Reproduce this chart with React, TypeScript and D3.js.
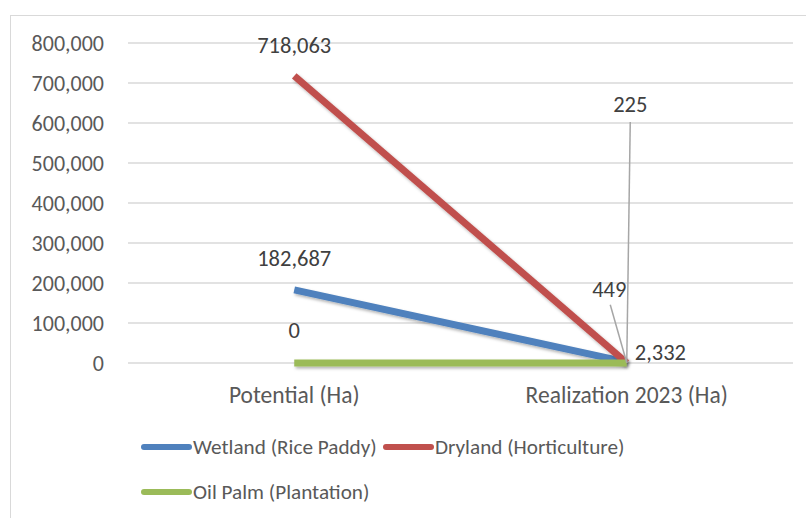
import React from "react";
import * as d3 from "d3";

const categories = ["Potential (Ha)", "Realization 2023 (Ha)"];
const seriesNames = ["Wetland (Rice Paddy)", "Dryland (Horticulture)", "Oil Palm (Plantation)"];
const wetland = [182687, 2332];
const dryland = [718063, 449];
const oilPalm = [0, 225];
const yTicks = [0, 100000, 200000, 300000, 400000, 500000, 600000, 700000, 800000];
const colors = ["#4F81BD", "#C0504D", "#9BBB59"];

const W = 806, H = 518;
const FONT = "Carlito, Calibri, Lato, sans-serif";

export default function App() {
  const x = d3.scaleBand().domain(categories).range([128, 793]);
  const y = d3.scaleLinear().domain([0, 800000]).range([363, 43]);
  const cx = (c: string) => (x(c) as number) + x.bandwidth() / 2;
  const fmt = d3.format(",");
  const all = [wetland, dryland, oilPalm];
  const line = d3.line<number>().x((_, i) => cx(categories[i])).y((d) => y(d));

  const labels = [
    { s: 0, i: 0, dx: 0, dy: -32, anchor: "middle" },
    { s: 1, i: 0, dx: 0, dy: -31, anchor: "middle" },
    { s: 2, i: 0, dx: 0, dy: -33, anchor: "middle" },
    { s: 0, i: 1, dx: 8, dy: -10, anchor: "start" },
    { s: 1, i: 1, dx: -17.5, dy: -74, anchor: "middle", leader: [-16.5, -58] },
    { s: 2, i: 1, dx: 3.5, dy: -259, anchor: "middle", leader: [3.5, -241] },
  ];

  return (
    <svg width={W} height={H} style={{ position: "absolute", left: 0, top: 0, background: "#fff" }}>
      <defs>
        <filter id="sh" filterUnits="userSpaceOnUse" x={0} y={0} width={W} height={H}>
          <feDropShadow dx="1.5" dy="2" stdDeviation="1.6" floodColor="#000" floodOpacity="0.3" />
        </filter>
      </defs>
      <rect x={0} y={0} width={W} height={H} fill="#fff" />
      <rect x={10.5} y={15.5} width={W + 10} height={H + 10} fill="none" stroke="#d9d9d9" strokeWidth={1} />
      {yTicks.map((t) => (
        <g key={t}>
          <line x1={128} x2={793} y1={y(t)} y2={y(t)} stroke="#d9d9d9" strokeWidth={1.5} />
          <text x={104} y={y(t)} dy="0.35em" textAnchor="end" fontFamily={FONT} fontSize={22} fill="#595959">
            {fmt(t)}
          </text>
        </g>
      ))}
      {categories.map((c) => (
        <text key={c} x={cx(c)} y={395} dy="0.35em" textAnchor="middle" fontFamily={FONT} fontSize={23.5} fill="#595959">
          {c}
        </text>
      ))}
      {all.map((s, k) => (
        <path key={k} d={line(s) || ""} fill="none" stroke={colors[k]} strokeWidth={7} filter="url(#sh)" />
      ))}
      {labels.map((l, k) => {
        const v = all[l.s][l.i];
        const px = cx(categories[l.i]);
        const py = y(v);
        return (
          <g key={k}>
            {l.leader && (
              <line x1={px} y1={py} x2={px + l.leader[0]} y2={py + l.leader[1]} stroke="#a6a6a6" strokeWidth={1.5} />
            )}
            <text x={px + l.dx} y={py + l.dy} dy="0.35em" textAnchor={l.anchor as any} fontFamily={FONT} fontSize={22.5} fill="#404040">
              {fmt(v)}
            </text>
          </g>
        );
      })}
      {[
        { k: 0, lx: 142, ly: 447 },
        { k: 1, lx: 384, ly: 447 },
        { k: 2, lx: 142, ly: 492 },
      ].map((g) => (
        <g key={g.k}>
          <line x1={g.lx + 2} x2={g.lx + 47} y1={g.ly} y2={g.ly} stroke={colors[g.k]} strokeWidth={6} strokeLinecap="round" />
          <text x={g.lx + 51} y={g.ly} dy="0.35em" fontFamily={FONT} fontSize={21.2} fill="#595959">
            {seriesNames[g.k]}
          </text>
        </g>
      ))}
    </svg>
  );
}
